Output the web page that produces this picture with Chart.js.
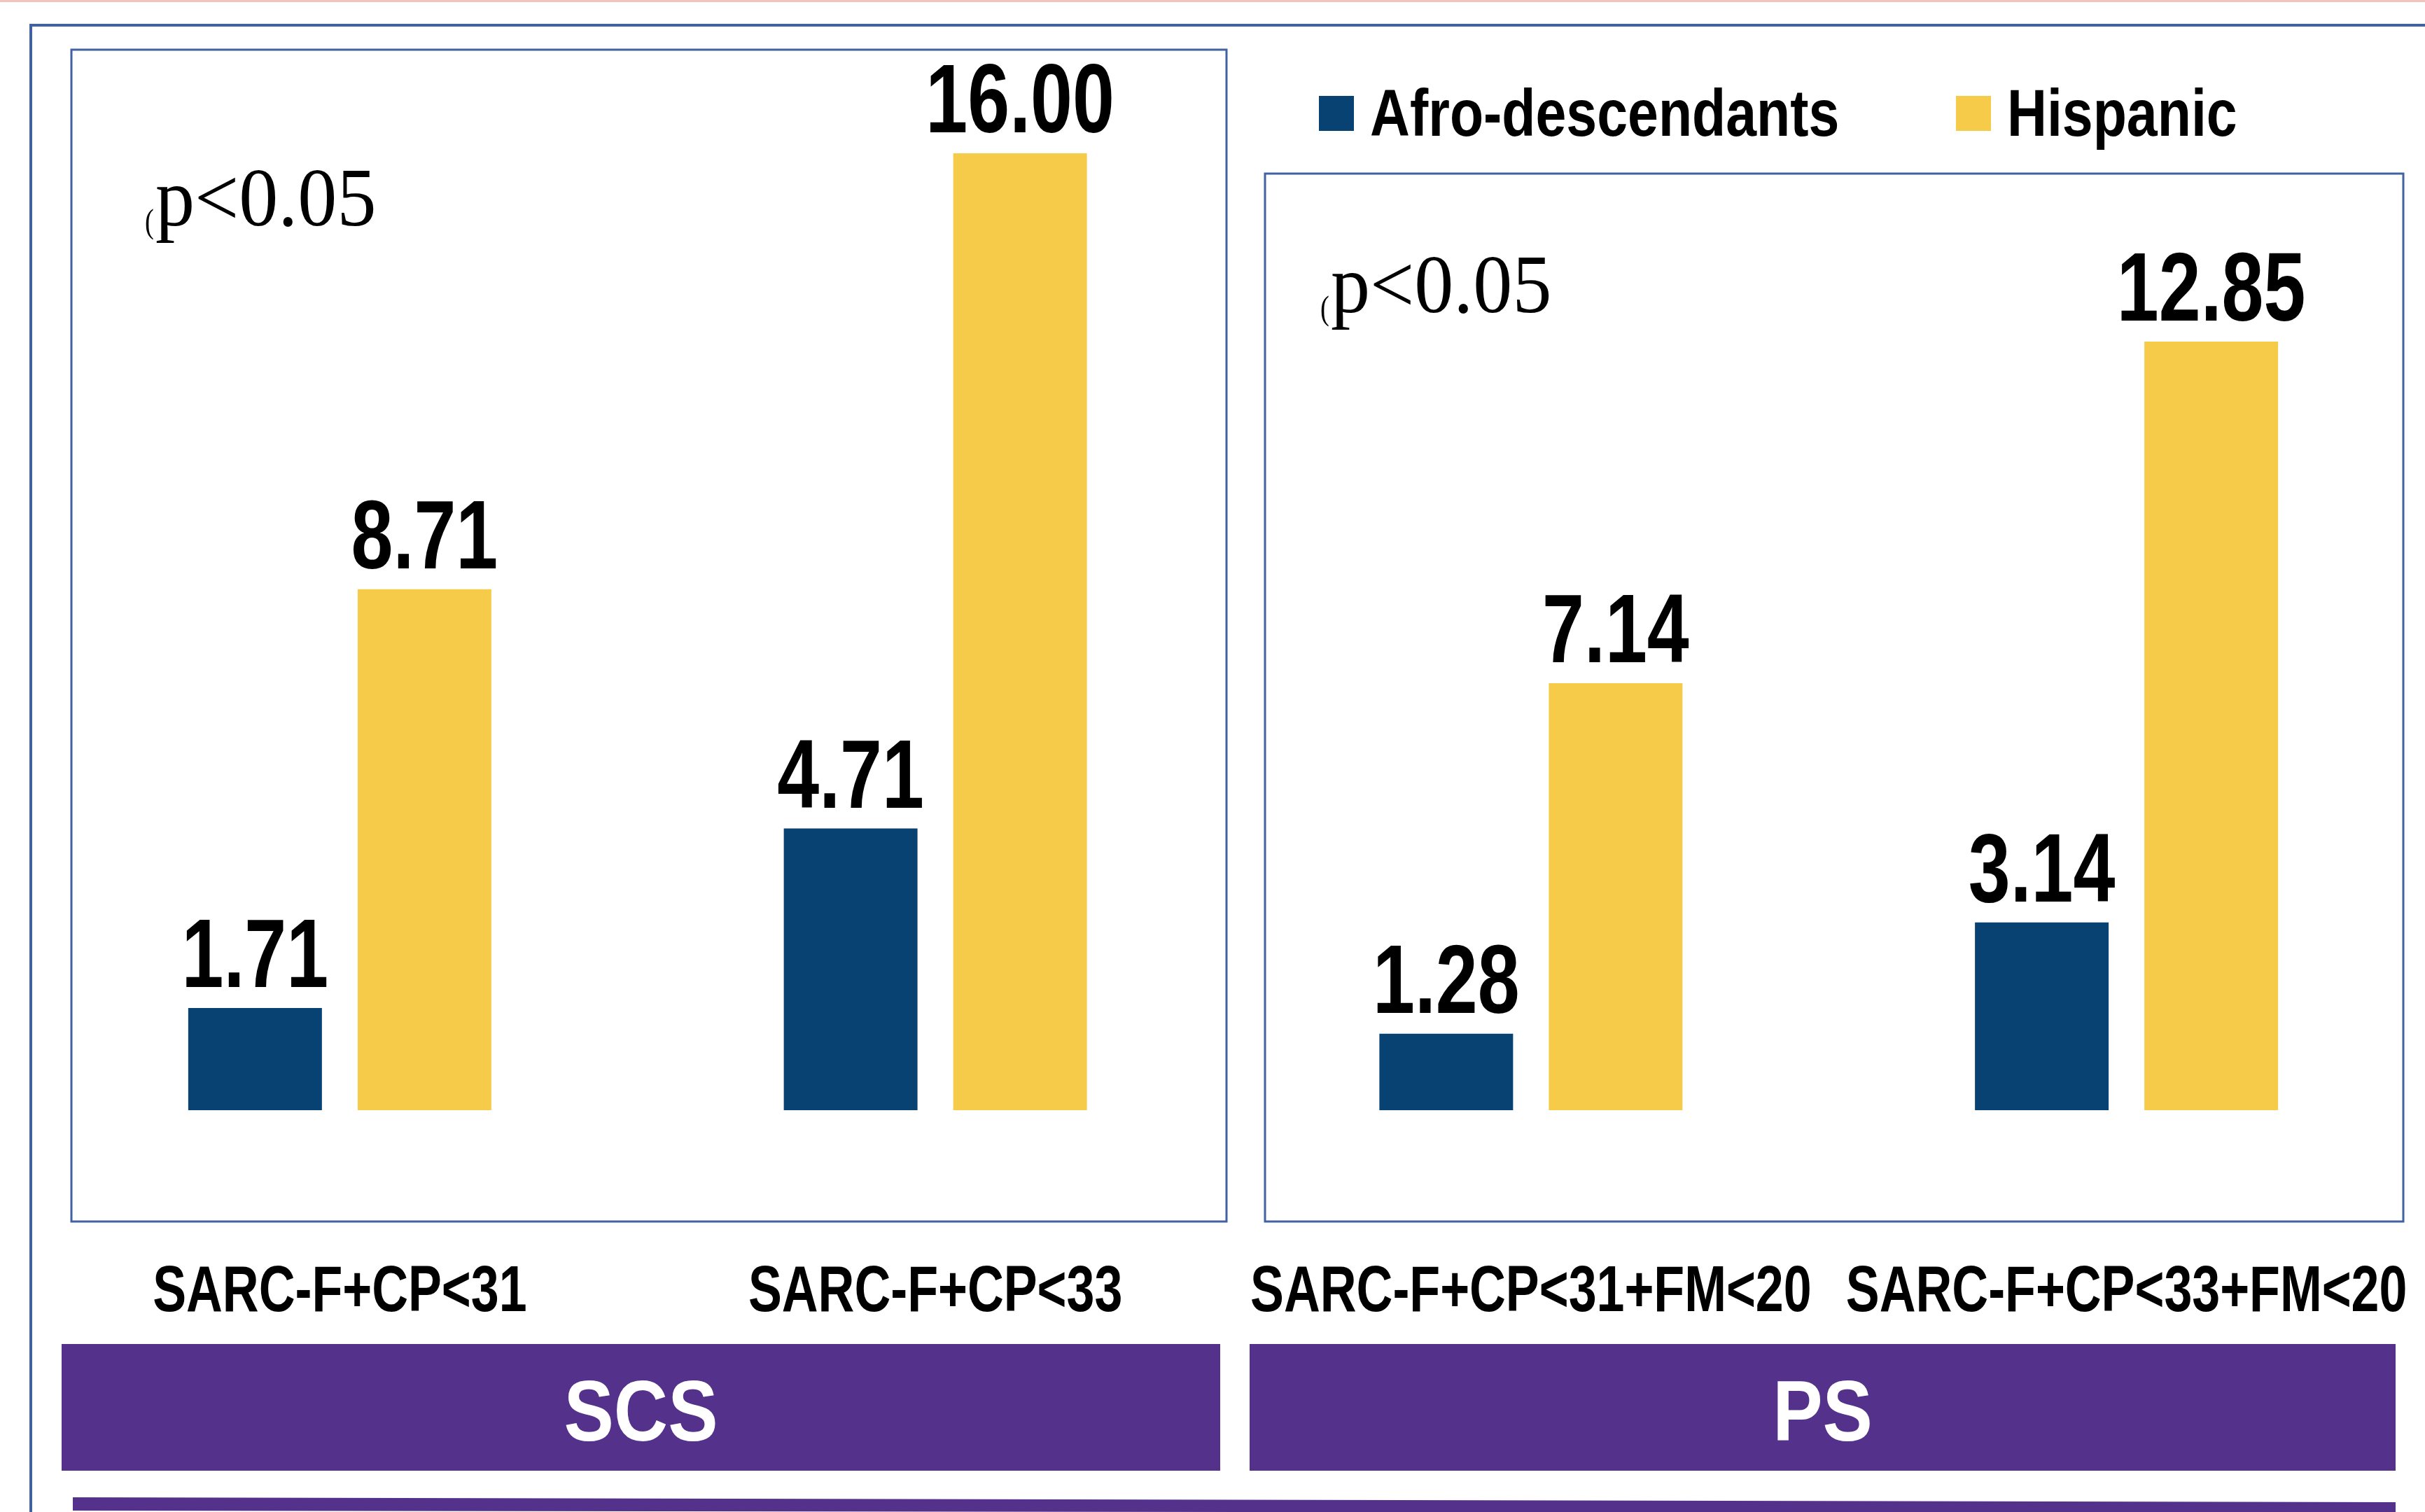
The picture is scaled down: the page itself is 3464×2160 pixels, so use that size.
<!DOCTYPE html>
<html lang="en">
<head>
  <meta charset="UTF-8" />
  <title>SARC-F + CP: Afro-descendants vs Hispanic</title>
  <style>
    html, body { margin: 0; padding: 0; background: #ffffff; }
    #wrap { width: 3464px; height: 2160px; }
  </style>
</head>
<body>
  <div id="wrap">
    <canvas id="sarcChart" width="3464" height="2160"></canvas>
  </div>

  <script src="https://cdn.jsdelivr.net/npm/chart.js"></script>
  <script>
    // Data
    const categories = ['SARC-F+CP<31', 'SARC-F+CP<33', 'SARC-F+CP<31+FM<20', 'SARC-F+CP<33+FM<20'];
    const afroValues = [1.71, 4.71, 1.28, 3.14];
    const hispanicValues = [8.71, 16.00, 7.14, 12.85];
    const seriesNames = ['Afro-descendants', 'Hispanic'];
    const seriesColors = ['#074273', '#F7CB4A'];
    const groupNames = ['SCS', 'PS'];
    const pNote = 'p<0.05';

    const FRAME = '#4161A0';
    const PURPLE = '#54328B';
    const SANS = '"Liberation Sans", Arial, sans-serif';
    const SERIF = '"Liberation Serif", "Times New Roman", serif';

    // draw text squeezed horizontally (the original uses a narrow face)
    function narrowText(ctx, text, x, y, sx, align) {
      ctx.save();
      ctx.translate(x, y);
      ctx.scale(sx, 1);
      ctx.textAlign = align || 'center';
      ctx.textBaseline = 'alphabetic';
      ctx.fillText(text, 0, 0);
      ctx.restore();
    }

    const decor = {
      id: 'decor',
      beforeDraw(chart) {
        const ctx = chart.ctx;
        ctx.save();
        ctx.fillStyle = '#ffffff';
        ctx.fillRect(0, 0, chart.width, chart.height);

        // faint line at the very top
        ctx.fillStyle = '#F3C2BA';
        ctx.fillRect(0, 0, chart.width, 3);

        // outer frame (runs off the right and bottom)
        ctx.strokeStyle = FRAME;
        ctx.lineWidth = 4;
        ctx.beginPath();
        ctx.moveTo(44, chart.height + 10);
        ctx.lineTo(44, 36);
        ctx.lineTo(chart.width + 10, 36);
        ctx.stroke();

        // panel boxes
        ctx.lineWidth = 3;
        ctx.strokeRect(102, 71, 1650, 1674);
        ctx.strokeRect(1807, 248, 1626, 1497);
        ctx.restore();
      },
      afterDatasetsDraw(chart) {
        const ctx = chart.ctx;
        ctx.save();
        ctx.fillStyle = '#000000';
        ctx.font = 'bold 140px ' + SANS;
        chart.data.datasets.forEach((ds, di) => {
          chart.getDatasetMeta(di).data.forEach((bar, i) => {
            narrowText(ctx, ds.data[i].toFixed(2), bar.x, bar.y - 30, 0.77, 'center');
          });
        });
        ctx.restore();
      },
      afterDraw(chart) {
        const ctx = chart.ctx;
        const xs = chart.scales.x;
        ctx.save();

        // legend
        ctx.font = 'bold 95px ' + SANS;
        const legendX = [1884, 2794];
        chart.data.datasets.forEach((ds, di) => {
          ctx.fillStyle = ds.backgroundColor;
          ctx.fillRect(legendX[di], 137, 50, 50);
          ctx.fillStyle = '#000000';
          narrowText(ctx, ds.label, legendX[di] + 73, 194, 0.83, 'left');
        });

        // significance notes
        ctx.fillStyle = '#000000';
        [[207, 322], [1886, 446]].forEach(([px, py]) => {
          ctx.font = '48px ' + SERIF;
          narrowText(ctx, '(', px, py + 10, 0.8, 'left');
          ctx.font = '118px ' + SERIF;
          narrowText(ctx, pNote, px + 15, py, 0.95, 'left');
        });

        // category labels
        ctx.font = 'bold 92px ' + SANS;
        categories.forEach((c, i) => {
          narrowText(ctx, c, xs.getPixelForValue(i), 1873, 0.78, 'center');
        });

        // group bands
        const bands = [[88, 1743], [1785, 3422]];
        bands.forEach(([x0, x1], gi) => {
          ctx.fillStyle = PURPLE;
          ctx.fillRect(x0, 1920, x1 - x0, 181);
          ctx.fillStyle = '#ffffff';
          ctx.font = 'bold 123px ' + SANS;
          narrowText(ctx, groupNames[gi], (x0 + x1) / 2, 2058, 0.87, 'center');
        });

        // bottom bar, slightly tilted
        ctx.fillStyle = PURPLE;
        ctx.beginPath();
        ctx.moveTo(104, 2139);
        ctx.lineTo(3422, 2146);
        ctx.lineTo(3422, 2162);
        ctx.lineTo(104, 2158);
        ctx.closePath();
        ctx.fill();

        ctx.restore();
      }
    };

    const ctxBars = document.getElementById('sarcChart').getContext('2d');
    const sarcChart = new Chart(ctxBars, {
      type: 'bar',
      data: {
        labels: categories,
        datasets: [
          { label: seriesNames[0], data: afroValues, backgroundColor: seriesColors[0], borderWidth: 0 },
          { label: seriesNames[1], data: hispanicValues, backgroundColor: seriesColors[1], borderWidth: 0 }
        ]
      },
      options: {
        responsive: false,
        animation: false,
        devicePixelRatio: 1,
        categoryPercentage: 0.569,
        barPercentage: 0.789,
        layout: { padding: { top: 48, bottom: 574, left: 60, right: 1 } },
        plugins: {
          legend: { display: false },
          tooltip: { enabled: false }
        },
        scales: {
          x: { display: false },
          y: { display: false, min: 0, max: 18 }
        }
      },
      plugins: [decor]
    });
  </script>
</body>
</html>
